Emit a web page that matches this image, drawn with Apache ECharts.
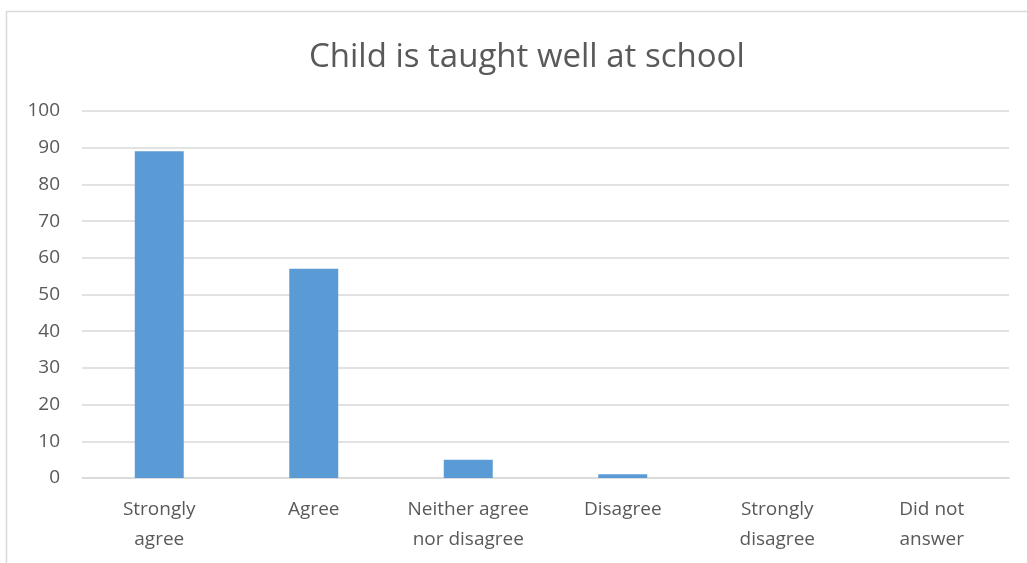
<!DOCTYPE html>
<html>
<head>
<meta charset="utf-8">
<script src="https://cdn.jsdelivr.net/npm/echarts@6/dist/echarts.min.js"></script>
<style>html,body{margin:0;padding:0;background:#fff}#c{width:1027px;height:563px}</style>
</head>
<body>
<div id="c"></div>
<script>
var titleText = 'Child is taught well at school';
var categories = ['Strongly\nagree', 'Agree', 'Neither agree\nnor disagree', 'Disagree', 'Strongly\ndisagree', 'Did not\nanswer'];
var values = [89, 57, 5, 1, 0, 0];
var yMin = 0, yMax = 100, yInterval = 10;

var chart = echarts.init(document.getElementById('c'));
var font = '"Open Sans", "Liberation Sans", sans-serif';
chart.setOption({
  animation: false,
  backgroundColor: '#fff',
  title: {
    text: titleText, left: 304, top: 36,
    textStyle: {fontFamily: font, fontSize: 33, fontWeight: 'normal', color: '#595959'}
  },
  graphic: [{
    type: 'rect', shape: {x: 6.5, y: 11.5, width: 1030, height: 600},
    style: {fill: 'none', stroke: '#D9D9D9', lineWidth: 1.5}, silent: true
  }],
  grid: {left: 82, right: 18, top: 111, bottom: 85, containLabel: false},
  xAxis: {
    type: 'category', data: categories,
    axisLine: {show: true, lineStyle: {color: '#D9D9D9', width: 1.5}},
    axisTick: {show: false},
    axisLabel: {fontFamily: font, fontSize: 19, color: '#595959', lineHeight: 30, margin: 17, interval: 0}
  },
  yAxis: {
    type: 'value', min: yMin, max: yMax, interval: yInterval,
    axisLine: {show: false}, axisTick: {show: false},
    splitLine: {lineStyle: {color: '#D9D9D9', width: 1.5}},
    axisLabel: {fontFamily: font, fontSize: 19, color: '#595959', margin: 22}
  },
  series: [{
    type: 'bar', data: values, barWidth: '31.7%',
    itemStyle: {color: '#5B9BD5'}
  }]
});
</script>
</body>
</html>
